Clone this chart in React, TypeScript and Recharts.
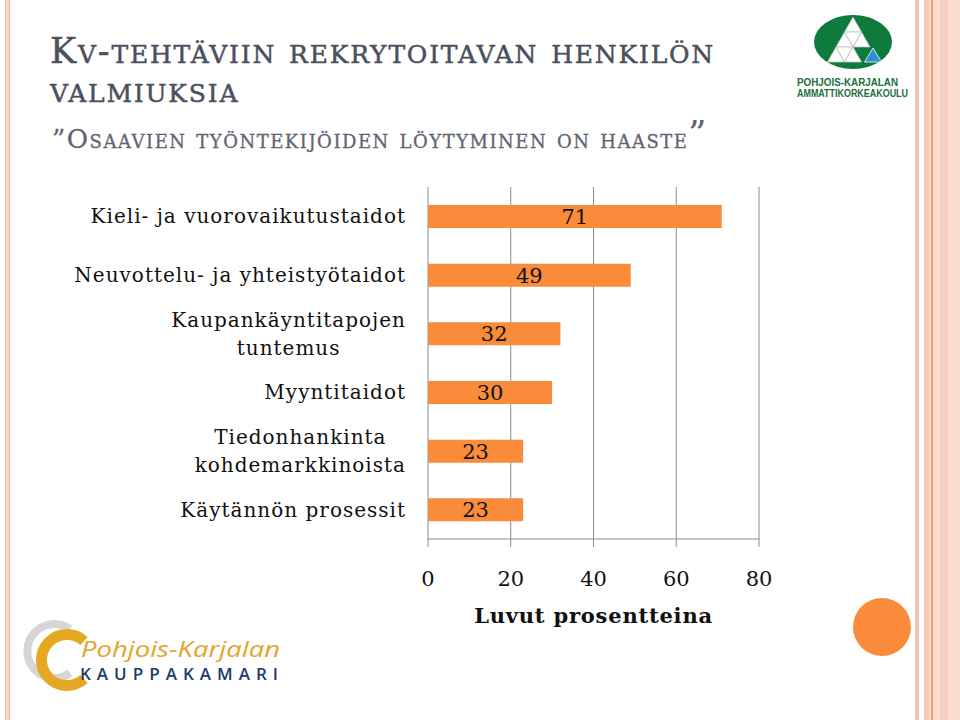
import React from "react";
import { Bar, BarChart, CartesianGrid, LabelList, XAxis, YAxis } from "recharts";

// values, percentages
const categories = [
  "Kieli- ja vuorovaikutustaidot",
  "Neuvottelu- ja yhteistyötaidot",
  "Kaupankäyntitapojen\ntuntemus",
  "Myyntitaidot",
  "Tiedonhankinta\nkohdemarkkinoista",
  "Käytännön prosessit",
];
const shares = [71, 49, 32, 30, 23, 23];
const xTicks = [0, 20, 40, 60, 80];
const bandEdges = [0, 1, 2, 3, 4, 5, 6];

const data = categories.map((label, i) => ({ label, value: shares[i] }));

const SERIF = "'DejaVu Serif', serif";
const SANS = "'Liberation Sans', Arial, sans-serif";
const ORANGE = "#f98b3b";
const GRID = "#8c8c8c";
const LABEL_SIZE = 20;
const LABEL_SPACING = 1;

let measureCtx: CanvasRenderingContext2D | null = null;
function textWidth(s: string, font: string) {
  if (!measureCtx) measureCtx = document.createElement("canvas").getContext("2d");
  if (!measureCtx) return s.length * 11;
  measureCtx.font = font;
  return measureCtx.measureText(s).width + LABEL_SPACING * (s.length - 1);
}

// right-aligned block, lines centred inside it (like the PowerPoint labels)
function CategoryTick(props: any) {
  const { x, y, payload } = props;
  const lines = String(payload.value).split("\n");
  const font = `${LABEL_SIZE}px 'DejaVu Serif'`;
  const w = Math.max(...lines.map((l) => textWidth(l, font)));
  const cx = x - w / 2 + LABEL_SPACING / 2;
  const lh = 28;
  const y0 = y - ((lines.length - 1) * lh) / 2;
  return (
    <text
      textAnchor="middle"
      fontFamily={SERIF}
      fontSize={LABEL_SIZE}
      letterSpacing={LABEL_SPACING}
      fill="#111"
    >
      {lines.map((l, i) => (
        <tspan key={i} x={cx} y={y0 + i * lh} dy="0.35em">
          {l}
        </tspan>
      ))}
    </text>
  );
}

function Decorations() {
  return (
    <svg width={960} height={720} style={{ position: "absolute", left: 0, top: 0 }}>
      {/* left stripe */}
      <rect x={5} y={0} width={5} height={720} fill="#f9d6c6" />
      <line x1={5.5} y1={0} x2={5.5} y2={720} stroke="#f2b8a0" />
      <line x1={9.5} y1={0} x2={9.5} y2={720} stroke="#f2b8a0" />
      {/* right stripes */}
      <rect x={915} y={0} width={4} height={720} fill="#f6c3ae" />
      <rect x={924} y={0} width={36} height={720} fill="#fadbcc" />
      <rect x={924} y={0} width={5} height={720} fill="#f6c9b4" />
      <rect x={940} y={0} width={8} height={720} fill="#f8cfbd" />
      <line x1={932} y1={0} x2={932} y2={720} stroke="#ee8a55" strokeWidth={1.5} />

      {/* title */}
      <g
        fontFamily={SERIF}
        fill="#4a505c"
        stroke="#4a505c"
        strokeWidth={0.5}
        style={{ fontVariant: "small-caps" }}
      >
        <text x={50} y={63} fontSize={35} letterSpacing={1.8}>
          Kv-tehtäviin rekrytoitavan henkilön
        </text>
        <text x={50} y={102} fontSize={35} letterSpacing={1.8}>
          valmiuksia
        </text>
      </g>
      <text
        x={52}
        y={148}
        fontFamily={SERIF}
        fontSize={26}
        letterSpacing={1.5}
        fill="#5e6571"
        stroke="#5e6571"
        strokeWidth={0.3}
        style={{ fontVariant: "small-caps" }}
      >
        ”Osaavien työntekijöiden löytyminen on haaste
      </text>
      <text x={688} y={146} fontFamily={SERIF} fontSize={36} fill="#5e6571">
        ”
      </text>

      {/* top right logo */}
      <ellipse cx={853} cy={42} rx={39} ry={27} fill="#0e7a3c" />
      <g fill="#ffffff" stroke="#b8c4bc" strokeWidth={0.8}>
        <polygon points="853,17 844.5,32 861.5,32" />
        <polygon points="844.5,32 836,47 853,47" />
        <polygon points="844.5,32 861.5,32 853,47" />
        <polygon points="861.5,32 853,47 870,47" />
        <polygon points="836,47 827.5,62 844.5,62" />
        <polygon points="836,47 853,47 844.5,62" />
        <polygon points="853,47 844.5,62 861.5,62" />
      </g>
      <polygon points="873,48 864.5,62 881.5,62" fill="#2f8fd0" stroke="#ffffff" strokeWidth={0.8} />
      <text x={797} y={86} fontFamily={SANS} fontWeight="bold" fontSize={11} fill="#17703d" textLength={101} lengthAdjust="spacingAndGlyphs">
        POHJOIS-KARJALAN
      </text>
      <text x={797} y={97} fontFamily={SANS} fontWeight="bold" fontSize={11} fill="#17703d" textLength={111} lengthAdjust="spacingAndGlyphs">
        AMMATTIKORKEAKOULU
      </text>

      {/* bottom left logo */}
      <path d="M 70 629 A 27 27 0 1 0 70 673" fill="none" stroke="#d6d6d8" strokeWidth={8} />
      <path d="M 84 641 A 25.5 25.5 0 1 0 84 679" fill="none" stroke="#e5a823" strokeWidth={11} />
      <text x={81} y={657} fontFamily="'Open Sans', sans-serif" fontStyle="italic" fontSize={21} fill="#e2a52b" textLength={199} lengthAdjust="spacingAndGlyphs">
        Pohjois-Karjalan
      </text>
      <text x={80} y={680} fontFamily="'Open Sans', sans-serif" fontWeight={600} fontSize={17} fill="#1e3a6e" textLength={198} lengthAdjust="spacing">
        KAUPPAKAMARI
      </text>

      {/* orange dot */}
      <circle cx={882} cy={627} r={29} fill={ORANGE} />
    </svg>
  );
}

export default function App() {
  return (
    <div style={{ position: "absolute", left: 0, top: 0, width: 960, height: 720, background: "#fff" }}>
      <Decorations />
      <div style={{ position: "absolute", left: 0, top: 0 }}>
        <BarChart
          width={960}
          height={720}
          data={data}
          layout="vertical"
          margin={{ top: 187, right: 201, bottom: 121, left: 8 }}
          barSize={23}
        >
          <CartesianGrid horizontal={false} stroke={GRID} />
          <XAxis
            type="number"
            domain={[0, 80]}
            ticks={xTicks}
            height={60}
            stroke={GRID}
            tickSize={8}
            tickMargin={24}
            tick={{ fontSize: 21, fontFamily: SERIF, fill: "#111" }}
            label={{
              value: "Luvut prosentteina",
              position: "bottom",
              offset: 9,
              style: {
                fontFamily: SERIF,
                fontSize: 21,
                fontWeight: "bold",
                letterSpacing: 0.8,
                fill: "#111",
              },
            }}
          />
          <YAxis
            yAxisId="edges"
            type="number"
            domain={[0, 6]}
            ticks={bandEdges}
            width={0}
            stroke={GRID}
            tickSize={7}
            tick={() => <g />}
            allowDataOverflow
          />
          <YAxis
            type="category"
            dataKey="label"
            width={420}
            axisLine={false}
            tickLine={false}
            tickSize={0}
            tickMargin={23}
            interval={0}
            tick={<CategoryTick />}
          />
          <Bar dataKey="value" fill={ORANGE} isAnimationActive={false}>
            <LabelList dataKey="value" position="center" fill="#111" fontSize={21} fontFamily={SERIF} />
          </Bar>
        </BarChart>
      </div>
    </div>
  );
}
